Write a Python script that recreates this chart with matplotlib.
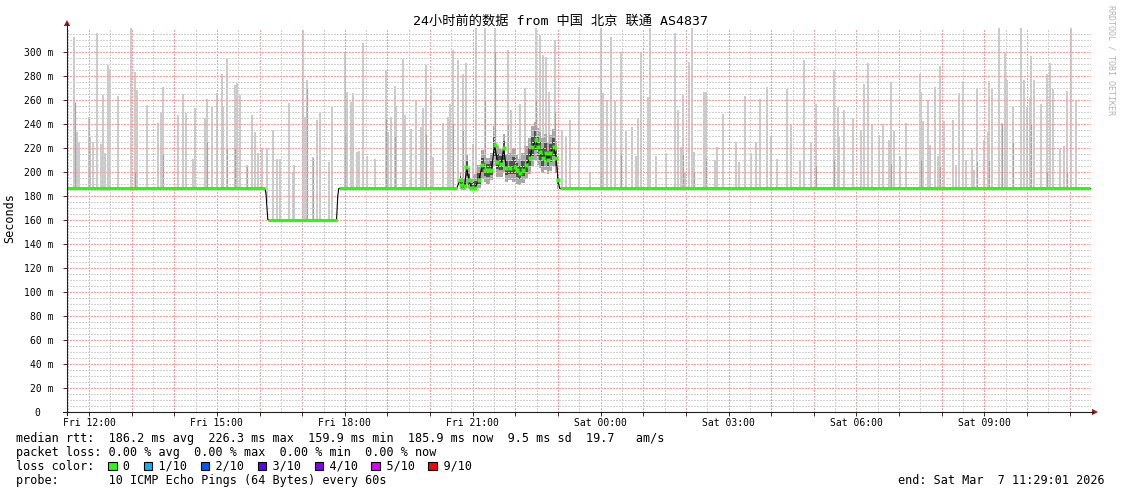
import numpy as np
import matplotlib.pyplot as plt
from matplotlib.patches import Rectangle, Polygon
from matplotlib.lines import Line2D

plt.rcParams['font.family'] = 'DejaVu Sans Mono'

W, H = 1121, 494
START = 11 + 29 / 60 + 1 / 3600   # Fri 11:29:01 in hours since Fri 00:00

# median rtt (ms); time is minutes after START
flat_t = [0, 278.4, 280.0, 281.2, 282.6, 379.3, 380.0, 381.0, 382.5, 548.4]
flat_v = [186.3, 186.3, 182, 172, 160.3, 160.3, 168, 180, 186.3, 186.3]

noisy_t = [552.7, 555.0, 559.7, 562.1, 565.7, 569.1, 573.8, 579.4, 584.6, 587.8,
           592.5, 597.2, 601.9, 605.7, 611.3, 614.5, 618.3, 623.0, 630.0, 633.3,
           637.0, 641.7, 646.4, 651.1, 654.9, 659.5, 662.8, 665.2, 669.8, 673.6,
           676.8, 680.2, 684.8, 688.6, 690.9]
noisy_med = [193, 189, 188, 204, 193, 187, 187, 193, 206, 201.7,
             201.7, 201.7, 222.5, 208.6, 207, 219.7, 203, 203, 204.4, 201.7,
             199, 201.7, 206, 211.4, 221, 226.3, 221, 217, 211.4, 216,
             210, 216, 221, 211.4, 193]
noisy_lo = [186, 185, 185, 190, 186, 185, 185, 187, 194, 192,
            190, 193, 205, 196, 196, 200, 192, 193, 192, 190,
            189, 191, 194, 198, 205, 210, 206, 203, 199, 202,
            198, 201, 205, 199, 186]
noisy_hi = [200, 195, 194, 214, 203, 194, 198, 206, 218, 214,
            212, 216, 238, 222, 219, 232, 215, 216, 220, 214,
            211, 216, 222, 228, 238, 242, 237, 233, 228, 232,
            225, 231, 236, 226, 204]

tail_t = [693.3, 1440]
tail_v = [186.3, 186.3]

# smoke spikes: time (min after START), highest ping (ms)
spike_t = [10.3, 13.6, 16.9, 30.9, 32.3, 37, 42.6, 47.4, 51, 53.4,
           58.1, 60.5, 72.1, 89.6, 95.6, 98, 112.9, 127.5, 131.8, 134.6,
           156.5, 162.7, 166.9, 177.6, 180, 194.1, 197.3, 203.5, 211.4, 217.5,
           219.8, 224.6, 236.3, 239.1, 243.3, 252.7, 259.7, 264.4, 269, 273.8,
           280.8,
           289.3, 294.9, 299.5, 312.6, 317.4, 319.6, 332.3, 334.7, 337.1, 346.4,
           351.1, 355.8, 368.9, 373.1, 390.9, 394.2, 399.4, 401.8, 407.4, 411,
           416.7, 422.3, 433.1, 449.6, 451.8, 456.6, 461.3, 463.6, 472.9, 475.3,
           484.7, 491.8, 498.8, 501, 505.8, 512.8, 515.1, 529.2, 536.2, 538.6,
           543.2, 550.3, 557.3, 562.1, 571.4,
           576.1, 587.8, 602.8, 620.6, 625.3, 637, 645, 660.5, 665.2, 669.8,
           674.6, 677.8, 686.3, 696.5, 702.7, 707.3, 720.4, 735.5, 750.9, 754.2,
           760.3, 766, 770.6, 780, 787, 794.9, 801.1, 803.4, 808.2, 817.5,
           820.8, 829.3, 843.3, 855, 859.6,
           864.4, 866.7, 869, 875.1, 879.9, 881.7, 896.2, 898.6, 911.3, 915.1,
           923, 941.8, 945.5, 953.4, 962.8, 969.9, 975.5, 985.3, 991, 998.9,
           1012.9, 1019.1, 1031.8, 1036.8, 1047.2, 1053.3, 1079, 1084.7, 1087, 1094.1,
           1105.7, 1117.5, 1121.2, 1126.8, 1133, 1143.3, 1147.9,
           1157.3, 1159.7, 1164.4, 1172.8, 1180.8, 1200.9, 1201.9, 1204.2, 1211.2, 1215,
           1221.6, 1225.3, 1229.1, 1233.7, 1246.4, 1251.2, 1255.8, 1261.4, 1265.7, 1273.1,
           1276.9, 1280.7, 1291, 1295.6, 1297.1, 1301.3, 1311.1, 1315.3, 1320.5, 1322.9,
           1330.8, 1342.6, 1346.2, 1351, 1355.6, 1356.6, 1361.3, 1370.7, 1378.6, 1383.3,
           1387, 1397.8, 1403.4, 1407.2, 1412.9, 1419.9]
spike_v = [312.8, 233.6, 225, 246, 229, 225, 315.5, 223, 264, 216,
           289, 286, 263, 319.7, 283.6, 268, 256, 241, 250, 271,
           247.5, 265, 249, 211, 253, 245, 261, 254, 265.5, 282,
           254, 294.7, 272.5, 274, 264, 206, 247.5, 233.6, 215.5, 219.7,
           220,
           235, 211, 211, 257.8, 199, 206, 318, 246, 277, 212.8,
           243, 249, 208, 254, 299, 267, 258, 266, 217, 217.5,
           307.8, 213, 211, 285, 233.6, 246, 271.7, 255, 294, 247.5,
           236, 260, 237.8, 253, 289, 271, 212.8, 240.5, 246, 257,
           301.7, 293, 282, 290.5, 223,
           319.7, 319.7, 321, 301.7, 251.7, 257, 270, 319.7, 314, 297.5,
           296, 267, 310, 235, 229, 243, 271, 200, 319.7, 265.5,
           260, 312.8, 259, 300, 235, 237.8, 213, 244.7, 299, 262.8,
           321, 213, 216, 315.5, 251.7,
           221, 264, 200, 292, 319.7, 217, 267, 267, 210, 221,
           248, 225, 208, 263, 216, 225, 261, 271, 229, 211,
           269, 240, 210, 293, 225, 256.7, 285, 254, 229, 252,
           244.7, 235, 273, 291, 239, 230.5, 240,
           227, 275, 234, 213, 240.5, 282, 267, 242.5, 260, 222.5,
           271, 213, 288, 242.5, 243, 206, 265.5, 275.8, 210, 219,
           202, 269, 227, 233.6, 275.8, 270, 319.7, 240.5, 299, 276.7,
           254, 319.7, 276.7, 254, 262, 296.7, 276.7, 257, 282, 291,
           269, 219, 222, 267.8, 319.7, 259]

# darker lower parts of the smoke
dark_t = [11, 31, 95.6, 134.6, 197.3, 224.6, 236.3, 252.7, 337.1, 346.4,
          390.9, 449.6, 461.3, 505.8, 543.2, 557.3, 587.8, 602.8, 620.6, 645,
          660.5, 686.3, 750.9, 780, 866.7, 881.7, 898.6, 1053.3, 1079, 1159.7,
          1201.9, 1229.1, 1280.7, 1297.1, 1315.3, 1330.8, 1356.6, 1378.6, 1407.2]
dark_v = [258, 246, 200, 215, 225, 220, 220, 205, 270, 212,
          230, 245, 230, 232, 240, 235, 260, 300, 240, 215,
          260, 250, 200, 215, 215, 200, 212, 205, 210, 207,
          210, 205, 208, 210, 240, 225, 240, 200, 200]

loss_labels = ['0', '1/10', '2/10', '3/10', '4/10', '5/10', '9/10']
loss_colors = ['#26ff00', '#00b8ff', '#0059ff', '#5e00ff', '#7e00ff', '#dd00ff', '#ff0000']


def hx(m):
    return START + np.asarray(m, dtype=float) / 60


med_t = flat_t + noisy_t + tail_t
med_v = flat_v + noisy_med + tail_v

YTOP = 319.9
fig = plt.figure(figsize=(W / 100, H / 100), dpi=100)
ax = fig.add_axes([67 / W, 82 / H, 1024 / W, YTOP * 1.2 / H])
ax.set_xlim(START, START + 24)
ax.set_ylim(0, YTOP)

# smoke
base = np.interp(spike_t, med_t, med_v)
ax.vlines(hx(spike_t), base, spike_v, colors='#c6c6c6', lw=1.3, zorder=1)
base_d = np.interp(dark_t, med_t, med_v)
ax.vlines(hx(dark_t), base_d, dark_v, colors='#a4a4a4', lw=0.9, zorder=1.4)
nx = hx(noisy_t)
lo, hi, md = np.array(noisy_lo), np.array(noisy_hi), np.array(noisy_med)
ax.fill_between(nx, lo, hi, color='#a8a8a8', lw=0, zorder=1.2, step='mid')
ax.fill_between(nx, (lo + md) / 2, (hi + md) / 2, color='#505050', lw=0, zorder=1.3, step='mid')

# median
ax.plot(hx(med_t), med_v, color='black', lw=0.8, zorder=4)
green = loss_colors[0]
for a, b in [(0, 2), (4, 6), (8, 10)]:
    ax.plot(hx(flat_t[a:b]), flat_v[a:b], color=green, lw=2.2, zorder=5, solid_capstyle='butt')
ax.plot(hx(tail_t), tail_v, color=green, lw=2.2, zorder=5, solid_capstyle='butt')
ax.plot(nx, noisy_med, 's', ms=2.6, color=green, mec='none', zorder=5)

# ticks and grid
hours = np.arange(12, 36)
ax.set_xticks(hours)
ax.set_xticklabels([('Fri' if h < 24 else 'Sat') + ' %02d:00' % (h % 24) if h % 3 == 0 else ''
                    for h in hours])
ax.set_xticks(np.arange(11.5, 35.6, 1), minor=True)
yt = np.arange(0, 301, 20)
ax.set_yticks(yt)
ax.set_yticklabels(['0  ' if v == 0 else '%d m' % v for v in yt])
ax.set_yticks(np.arange(5, 320, 5), minor=True)
ax.grid(which='major', color='#f2a0a0', lw=1, ls=(0, (1, 1)), antialiased=False)
ax.grid(which='minor', color='#d0d0d0', lw=1, ls=(0, (1, 1)), antialiased=False)
ax.set_axisbelow(False)
ax.tick_params(which='both', labelsize=7, color='#303030', width=0.7)
ax.tick_params(which='major', length=3)
ax.tick_params(which='minor', length=0)
ax.tick_params(axis='y', pad=7)
ax.tick_params(axis='x', pad=1.5)
for s in ax.spines.values():
    s.set_visible(False)


def fx(x):
    return x / W


def fy(y):
    return 1 - y / H


# axis lines with arrows
fig.add_artist(Line2D([fx(63), fx(1093)], [fy(412)] * 2, color='#202020', lw=0.8))
fig.add_artist(Line2D([fx(67)] * 2, [fy(415), fy(24)], color='#202020', lw=0.8))
fig.add_artist(Polygon([(fx(67), fy(20)), (fx(63.8), fy(26)), (fx(70.2), fy(26))],
                       closed=True, transform=fig.transFigure, fc='#9c1c1c', ec='none'))
fig.add_artist(Polygon([(fx(1098), fy(412)), (fx(1092), fy(408.8)), (fx(1092), fy(415.2))],
                       closed=True, transform=fig.transFigure, fc='#9c1c1c', ec='none'))

# texts
fig.text(fx(560.5), fy(21), '24小时前的数据 from 中国 北京 联通 AS4837', ha='center', va='center',
         size=9.5, family=['DejaVu Sans Mono', 'Noto Sans CJK SC'])
fig.text(fx(10), fy(218), 'Seconds', rotation=90, ha='center', va='center', size=8.5)
fig.text(fx(1111), fy(60), 'RRDTOOL / TOBI OETIKER', rotation=-90, ha='center', va='center',
         size=6, color='#b4b4b4')

rows = [
    'median rtt:  186.2 ms avg  226.3 ms max  159.9 ms min  185.9 ms now  9.5 ms sd  19.7   am/s',
    'packet loss: 0.00 % avg  0.00 % max  0.00 % min  0.00 % now',
    'loss color:  ' + ''.join('  ' + lab + '  ' for lab in loss_labels).rstrip(),
    'probe:       10 ICMP Echo Pings (64 Bytes) every 60s',
]
for i, r in enumerate(rows):
    fig.text(fx(16), fy(438 + 14 * i), r, ha='left', va='center', size=8.5)
fig.text(fx(1105), fy(480), 'end: Sat Mar  7 11:29:01 2026', ha='right', va='center', size=8.5)

cw = 8.5 / 72 * 100 * 0.6021
idx = 13
for lab, col in zip(loss_labels, loss_colors):
    x0 = 16 + idx * cw
    fig.add_artist(Rectangle((fx(x0), fy(470.3)), 8.3 / W, 8.3 / H, transform=fig.transFigure,
                             fc=col, ec='black', lw=0.8))
    idx += len(lab) + 4

fig.savefig('out.png', dpi=100)
